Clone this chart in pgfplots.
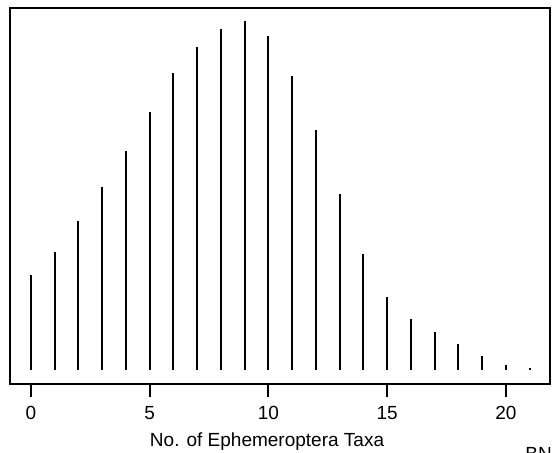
\documentclass[border=0pt]{standalone}
\usepackage{fontspec}
\setmainfont{Liberation Sans}
\usepackage{pgfplots}
\pgfplotsset{compat=1.18}
\begin{document}
\begin{tikzpicture}
\fontsize{9.5pt}{11pt}\selectfont
\useasboundingbox (-5pt,-34.5pt) rectangle (273pt,192pt);
\begin{axis}[
  at={(0pt,0pt)}, anchor=south west,
  scale only axis,
  width=270pt, height=188pt,
  xmin=-0.884, xmax=21.853,
  ymin=-14, ymax=362,
  axis line style={line width=1pt},
  xtick={0,5,10,15,20},
  ytick=\empty,
  xtick pos=bottom,
  tick align=outside,
  major tick length=6.5pt,
  tick style={line width=1pt, black},
  /pgf/number format/assume math mode=true,
  xticklabel style={font=\fontsize{9.5pt}{11pt}\selectfont, anchor=base, yshift=-11.5pt},
  xlabel={No. of Ephemeroptera Taxa},
  xlabel style={font=\fontsize{9.5pt}{11pt}\selectfont, at={(axis description cs:0.476,0)}, anchor=base, yshift=-31.5pt},
]
\addplot[ycomb, line width=1pt, black, mark=none] coordinates {
(0,95) (1,118) (2,149) (3,183) (4,219) (5,258) (6,297) (7,323) (8,341) (9,349) (10,334)
(11,294) (12,240) (13,176) (14,116) (15,73) (16,51) (17,38) (18,26) (19,14) (20,5) (21,1.5)
};
\end{axis}
\node[anchor=base west, inner sep=0pt] at (257.5pt,-38.5pt) {BN};
\end{tikzpicture}
\end{document}
